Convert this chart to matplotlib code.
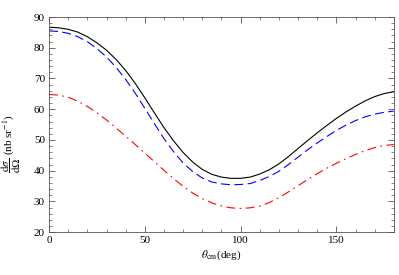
import matplotlib
matplotlib.use("Agg")
import matplotlib.pyplot as plt
from matplotlib.ticker import MultipleLocator

plt.rcParams['font.family'] = ['Liberation Serif', 'DejaVu Serif']
plt.rcParams['mathtext.fontset'] = 'stix'

theta = [0, 5, 10, 15, 20, 25, 30, 35, 40, 45, 50, 55, 60, 65, 70, 75, 80, 85, 90,
         95, 100, 105, 110, 115, 120, 125, 130, 135, 140, 145, 150, 155, 160, 165,
         170, 175, 180]

solid_black = [86.7, 86.5, 86.0, 85.1, 83.6, 81.6, 79.2, 76.2, 72.6, 68.4, 63.7, 58.8,
               54.0, 49.7, 45.9, 42.8, 40.4, 38.8, 37.9, 37.5, 37.5, 37.9, 38.9, 40.3,
               42.2, 44.6, 47.2, 49.8, 52.3, 54.7, 57.0, 59.1, 61.0, 62.7, 64.1, 65.1, 65.7]

dashed_blue = [85.5, 85.3, 84.7, 83.6, 82.0, 79.7, 77.0, 73.6, 69.7, 65.2, 60.3, 55.3,
               50.4, 46.2, 42.5, 39.7, 37.6, 36.3, 35.7, 35.4, 35.5, 35.8, 36.8, 38.1,
               39.8, 42.0, 44.4, 46.8, 49.0, 51.1, 53.1, 54.8, 56.3, 57.5, 58.4, 59.0, 59.4]

dashdot_red = [64.8, 64.6, 63.9, 62.6, 60.9, 58.8, 56.5, 53.9, 51.2, 48.5, 45.7, 42.9,
               40.1, 37.4, 34.9, 32.7, 30.9, 29.5, 28.5, 27.9, 27.7, 27.9, 28.5, 29.6,
               31.2, 33.1, 35.1, 37.1, 39.0, 40.8, 42.4, 43.9, 45.3, 46.5, 47.5, 48.2, 48.5]

fig = plt.figure(figsize=(3.99, 2.75), dpi=100)
ax = fig.add_axes([0.123, 0.156, 0.864, 0.782])

ax.plot(theta, solid_black, color='black', lw=0.8)
ax.plot(theta, dashed_blue, color='blue', lw=0.8, dashes=(8, 4))
ax.plot(theta, dashdot_red, color='red', lw=0.8, dashes=(8, 4, 1.5, 4))

ax.set_xlim(0, 180)
ax.set_ylim(20, 90)
ax.xaxis.set_major_locator(MultipleLocator(50))
ax.xaxis.set_minor_locator(MultipleLocator(10))
ax.yaxis.set_major_locator(MultipleLocator(10))
ax.yaxis.set_minor_locator(MultipleLocator(2))
ax.tick_params(which='both', direction='in', top=True, right=True, labelsize=8,
               color='#555555', pad=3)
ax.tick_params(which='major', length=4, width=0.6)
ax.tick_params(which='minor', length=2, width=0.5)
for s in ax.spines.values():
    s.set_color('#555555')
    s.set_linewidth(0.6)

ax.set_xlabel(r'$\theta_{\rm cm}$(deg)', fontsize=8, labelpad=2)
ax.set_ylabel(r'$\dfrac{\mathrm{d}\sigma}{\mathrm{d}\Omega}$ (nb sr$^{-1}$)', fontsize=8)
ax.yaxis.set_label_coords(-0.075, 0.41)

fig.savefig('out.png', dpi=100)
